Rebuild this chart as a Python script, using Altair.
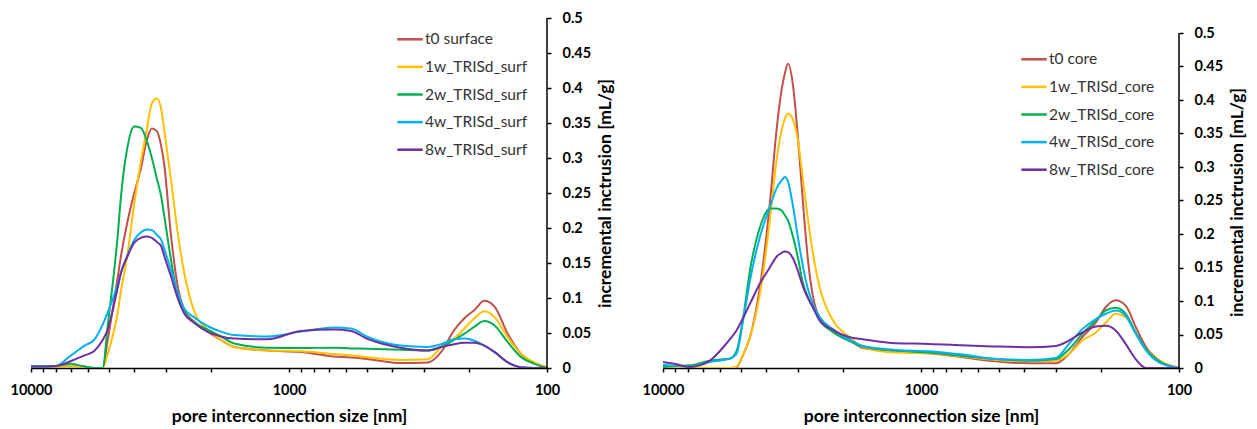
import altair as alt
import pandas as pd

# ---------------- data: left panel (surface) ----------------
surf_size = [10000, 8000, 7000, 6200, 5700, 5275, 5044, 4610, 4480, 4221,
             3979, 3750, 3560, 3400, 3250, 3129, 3044, 2868, 2700, 2548,
             2324, 2071, 1834, 1630, 1210, 900, 670, 575, 500, 370,
             290, 257, 229, 209, 191, 175, 160, 142, 126, 112, 100]
t0_surface = [0.002, 0.002, 0.003, 0.002, 0.0, 0.0, 0.04, 0.13, 0.16, 0.21,
              0.25, 0.285, 0.325, 0.342, 0.338, 0.317, 0.29, 0.19, 0.117, 0.083,
              0.066, 0.052, 0.04, 0.03, 0.025, 0.023, 0.0165, 0.015, 0.013, 0.007,
              0.008, 0.023, 0.054, 0.071, 0.083, 0.096, 0.088, 0.049, 0.02, 0.007, 0.001]
w1_surf = [0.002, 0.002, 0.003, 0.002, 0.0, 0.0, 0.02, 0.08, 0.11, 0.164,
           0.235, 0.295, 0.34, 0.378, 0.385, 0.37, 0.34, 0.269, 0.193, 0.136,
           0.08, 0.055, 0.04, 0.03, 0.025, 0.024, 0.02, 0.018, 0.0155, 0.0116,
           0.0126, 0.03, 0.042, 0.0565, 0.071, 0.081, 0.073, 0.044, 0.02, 0.008, 0.001]
w2_surf = [0.002, 0.003, 0.006, 0.002, 0.0, 0.0, 0.06, 0.19, 0.245, 0.317,
           0.345, 0.343, 0.325, 0.30, 0.27, 0.245, 0.217, 0.155, 0.102, 0.08,
           0.065, 0.055, 0.045, 0.035, 0.029, 0.0285, 0.029, 0.028, 0.0275, 0.026,
           0.025, 0.03, 0.04, 0.049, 0.059, 0.067, 0.061, 0.037, 0.0155, 0.006, 0.0]
w4_surf = [0.002, 0.003, 0.018, 0.032, 0.04, 0.062, 0.079, 0.12, 0.136, 0.162,
           0.183, 0.194, 0.198, 0.197, 0.19, 0.183, 0.17, 0.14, 0.108, 0.085,
           0.072, 0.06, 0.052, 0.047, 0.045, 0.052, 0.058, 0.0565, 0.045, 0.032,
           0.03, 0.034, 0.041, 0.042, 0.039, 0.032, 0.023, 0.008, 0.001, 0.0, 0.0]
w8_surf = [0.002, 0.003, 0.01, 0.018, 0.024, 0.04, 0.055, 0.115, 0.136, 0.16,
           0.179, 0.186, 0.188, 0.186, 0.18, 0.174, 0.16, 0.131, 0.1, 0.078,
           0.064, 0.052, 0.045, 0.042, 0.041, 0.053, 0.055, 0.053, 0.042, 0.029,
           0.025, 0.03, 0.034, 0.036, 0.036, 0.032, 0.023, 0.008, 0.001, 0.0, 0.0]
surf_names = ["t0 surface", "1w_TRISd_surf", "2w_TRISd_surf", "4w_TRISd_surf", "8w_TRISd_surf"]

# ---------------- data: right panel (core) ----------------
core_size = [10000, 8850, 7860, 6580, 5840, 5500, 5190, 4890, 4600, 4210,
             3855, 3630, 3470, 3370, 3275, 3130, 3000, 2865, 2740, 2620,
             2470, 2200, 1890, 1680, 1250, 930, 690, 510, 380, 300,
             267, 237, 210, 192, 176, 161, 147, 134, 119, 100]
t0_core = [0.004, 0.002, 0.0, 0.0, 0.0, 0.0, 0.001, 0.02, 0.046, 0.121,
           0.245, 0.355, 0.415, 0.44, 0.454, 0.42, 0.345, 0.245, 0.16, 0.106,
           0.075, 0.058, 0.042, 0.03, 0.025, 0.022, 0.016, 0.01, 0.007, 0.007,
           0.021, 0.046, 0.068, 0.091, 0.101, 0.093, 0.061, 0.031, 0.011, 0.0]
w1_core = [0.002, 0.001, 0.0, 0.0, 0.0, 0.0, 0.002, 0.02, 0.046, 0.111,
           0.22, 0.31, 0.355, 0.372, 0.38, 0.37, 0.34, 0.28, 0.22, 0.17,
           0.12, 0.072, 0.046, 0.031, 0.023, 0.022, 0.017, 0.012, 0.01, 0.011,
           0.021, 0.041, 0.053, 0.068, 0.081, 0.076, 0.051, 0.028, 0.011, 0.0]
w2_core = [0.0015, 0.003, 0.004, 0.011, 0.013, 0.014, 0.025, 0.075, 0.146, 0.21,
           0.238, 0.238, 0.235, 0.228, 0.22, 0.195, 0.165, 0.126, 0.105, 0.09,
           0.071, 0.054, 0.04, 0.032, 0.026, 0.023, 0.018, 0.0134, 0.011, 0.0134,
           0.028, 0.051, 0.071, 0.086, 0.09, 0.081, 0.053, 0.028, 0.01, 0.0]
w4_core = [0.005, 0.003, 0.002, 0.009, 0.012, 0.014, 0.021, 0.071, 0.131, 0.196,
           0.24, 0.268, 0.28, 0.285, 0.278, 0.24, 0.195, 0.151, 0.117, 0.095,
           0.076, 0.058, 0.042, 0.033, 0.027, 0.025, 0.02, 0.0134, 0.012, 0.015,
           0.036, 0.058, 0.073, 0.081, 0.086, 0.078, 0.051, 0.026, 0.008, 0.0]
w8_core = [0.009, 0.0055, 0.0015, 0.011, 0.031, 0.043, 0.056, 0.075, 0.096, 0.126,
           0.15, 0.166, 0.172, 0.174, 0.173, 0.163, 0.145, 0.121, 0.104, 0.09,
           0.071, 0.057, 0.046, 0.043, 0.037, 0.036, 0.034, 0.032, 0.031, 0.033,
           0.041, 0.053, 0.062, 0.063, 0.056, 0.036, 0.013, 0.0, 0.0, 0.0]
core_names = ["t0 core", "1w_TRISd_core", "2w_TRISd_core", "4w_TRISd_core", "8w_TRISd_core"]

colors = ["#C0504D", "#FFC000", "#00B050", "#00B0F0", "#7030A0"]
x_ticks = [10000, 9000, 8000, 7000, 6000, 5000, 4000, 3000, 2000,
           1000, 900, 800, 700, 600, 500, 400, 300, 200, 100]
y_ticks = [0, 0.05, 0.1, 0.15, 0.2, 0.25, 0.3, 0.35, 0.4, 0.45, 0.5]
y_axis_span = [0, 0.5]
x_title = "pore interconnection size [nm]"
y_title = "incremental inctrusion [mL/g]"

FONT = "Lato"
TICK_FS = 14.5
TITLE_FS = 17.5


def to_long(sizes, series, names):
    rows = []
    for name, vals in zip(names, series):
        for s, v in zip(sizes, vals):
            rows.append({"size": s, "value": v, "series": name})
    return pd.DataFrame(rows)


def panel(df, names, ymax, lx, ly, title_y=None):
    x_scale = alt.Scale(type="log", domain=[100, 10000], reverse=True, nice=False)
    y_scale = alt.Scale(domain=[0, ymax], nice=False, zero=True)
    x_axis = alt.Axis(
        values=x_ticks, format="d",
        labelExpr="(datum.value == 10000 || datum.value == 1000 || datum.value == 100) ? datum.label : ''",
        grid=False, domainColor="black", domainWidth=1.5,
        tickColor="black", tickWidth=1.5, tickSize=4,
        labelFont=FONT, labelFontSize=TICK_FS, labelFontWeight="bold", labelColor="black",
        labelPadding=11, labelOverlap=False, labelFlush=False,
        title=x_title, titleFont=FONT, titleFontSize=TITLE_FS,
        titleFontWeight="bold", titleColor="black", titlePadding=11,
    )
    y_axis_kw = dict(
        orient="right", values=y_ticks, format="~g", grid=False, domain=False,
        tickColor="black", tickWidth=1.5, tickSize=4,
        labelFont=FONT, labelFontSize=TICK_FS, labelFontWeight="bold", labelColor="black",
        labelPadding=11, labelOverlap=False, labelFlush=False,
        title=y_title, titleFont=FONT, titleFontSize=TITLE_FS,
        titleFontWeight="bold", titleColor="black", titleAngle=270,
        titleBaseline="top", titlePadding=6,
    )
    if title_y is not None:
        y_axis_kw["titleY"] = title_y
    y_axis = alt.Axis(**y_axis_kw)
    color = alt.Color(
        "series:N",
        scale=alt.Scale(domain=names, range=colors),
        legend=alt.Legend(
            orient="none", legendX=lx, legendY=ly, title=None, padding=0,
            symbolType="stroke", symbolSize=650, symbolStrokeWidth=2.5,
            labelFont=FONT, labelFontSize=15.5, labelColor="#333333", labelOffset=1,
            rowPadding=4.6,
        ),
    )
    lines = alt.Chart(df).mark_line(strokeWidth=2, interpolate="monotone", clip=True).encode(
        x=alt.X("size:Q", scale=x_scale, axis=x_axis),
        y=alt.Y("value:Q", scale=y_scale, axis=y_axis),
        color=color,
        order=alt.Order("size:Q"),
    )
    axis_line = alt.Chart(
        pd.DataFrame({"size": [100], "value": [y_axis_span[0]], "value2": [y_axis_span[1]]})
    ).mark_rule(color="black", strokeWidth=1.5).encode(
        x=alt.X("size:Q", scale=x_scale, axis=x_axis),
        y=alt.Y("value:Q", scale=y_scale, axis=y_axis),
        y2="value2:Q",
    )
    return alt.layer(lines, axis_line).properties(width=516, height=350)


left = panel(to_long(surf_size, [t0_surface, w1_surf, w2_surf, w4_surf, w8_surf], surf_names),
             surf_names, 0.5, 365, 7.3)
right = panel(to_long(core_size, [t0_core, w1_core, w2_core, w4_core, w8_core], core_names),
              core_names, 0.5 * 350 / 335, 357, 27.3, title_y=184)

chart = alt.hconcat(left, right, spacing=26).resolve_scale(color="independent").properties(
    padding={"left": 1, "top": 2, "right": 0, "bottom": 0}
).configure_view(stroke=None)

chart.save("out.html", embed_options={"renderer": "svg", "actions": False})
